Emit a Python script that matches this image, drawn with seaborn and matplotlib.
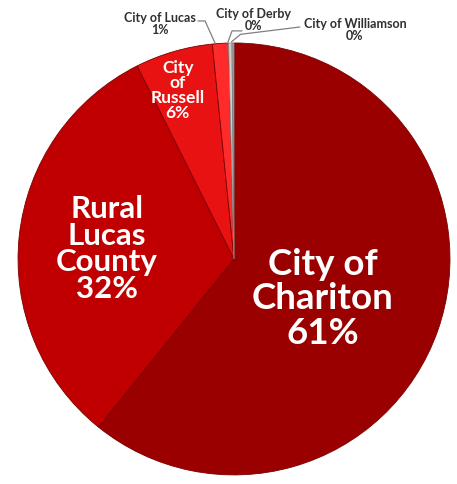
import matplotlib
matplotlib.use("Agg")
import matplotlib.pyplot as plt
import seaborn as sns

# data
places = ["City of Chariton", "Rural Lucas County", "City of Russell",
          "City of Lucas", "City of Derby", "City of Williamson"]
shares = [60.8, 31.8, 5.8, 1.2, 0.25, 0.15]
colors = ["#9A0000", "#C00000", "#E81212", "#FF2B2B", "#D0D0D0", "#A6A6A6"]

sns.set_style("white")
plt.rcParams["font.family"] = ["Lato", "DejaVu Sans"]

fig = plt.figure(figsize=(4.57, 4.84), dpi=100)
ax = fig.add_axes([0, 0, 1, 1])

wedges, _ = ax.pie(shares, colors=colors, startangle=90, counterclock=False,
                   radius=1, wedgeprops=dict(edgecolor="#7a0000", linewidth=0.6))
wedges[4].set_edgecolor("#909090")
wedges[5].set_edgecolor("#808080")

pct = [f"{round(s)}%" for s in shares]

# labels inside the slices
ax.text(0.41, -0.185, "City of\nChariton\n" + pct[0], color="white", fontsize=26.5,
        fontweight="bold", ha="center", va="center", linespacing=1.05)
ax.text(-0.588, 0.046, "Rural\nLucas\nCounty\n" + pct[1], color="white", fontsize=22.5,
        fontweight="bold", ha="center", va="center", linespacing=0.95)
ax.text(-0.26, 0.78, "City\nof\nRussell\n" + pct[2], color="white", fontsize=12.5,
        fontweight="bold", ha="center", va="center", linespacing=0.92)

# small slices labelled outside with leader lines
lab = dict(color="#303030", fontsize=9, fontweight="bold", ha="center", va="center",
           linespacing=1.0)
ax.text(-0.345, 1.09, "City of Lucas\n" + pct[3], **lab)
ax.text(0.09, 1.108, "City of Derby\n" + pct[4], **lab)
ax.text(0.56, 1.06, "City of Williamson\n" + pct[5], **lab)

ln = dict(color="#808080", linewidth=0.9)
ax.plot([-0.167, -0.134, -0.088], [1.102, 1.102, 1.0], **ln)
ax.plot([-0.028, -0.009, 0.037], [1.005, 1.056, 1.056], **ln)
ax.plot([-0.012, 0.03, 0.305], [1.005, 1.04, 1.074], **ln)

ax.set_xlim(-1.083, 1.032)
ax.set_ylim(-1.042, 1.199)
ax.set_aspect("equal")
ax.axis("off")

fig.savefig("out.png", dpi=100, facecolor="white")
